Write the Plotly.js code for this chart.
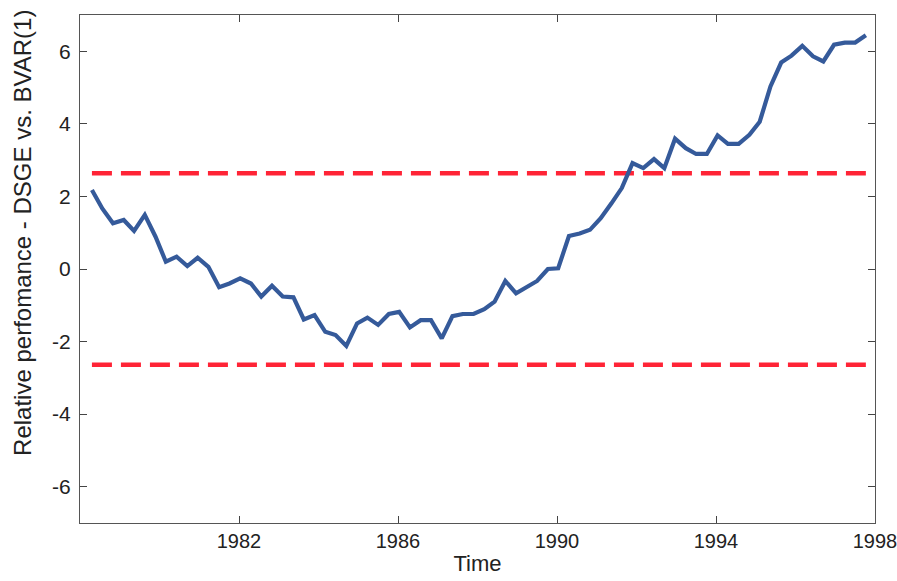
<!DOCTYPE html>
<html>
<head>
<meta charset="utf-8">
<script src="https://cdn.plot.ly/plotly-3.0.1.min.js"></script>
<style>html,body{margin:0;padding:0;background:#fff;}#chart{width:897px;height:581px;}</style>
</head>
<body>
<div id="chart"></div>
<script>
const time = [1978.30,1978.56,1978.83,1979.10,1979.36,1979.63,1979.90,1980.16,1980.43,1980.70,
  1980.96,1981.23,1981.50,1981.76,1982.03,1982.30,1982.56,1982.83,1983.10,1983.37,
  1983.63,1983.90,1984.17,1984.43,1984.70,1984.97,1985.23,1985.50,1985.77,1986.03,
  1986.30,1986.57,1986.83,1987.10,1987.37,1987.63,1987.90,1988.17,1988.43,1988.70,
  1988.97,1989.23,1989.50,1989.77,1990.03,1990.30,1990.57,1990.83,1991.10,1991.37,
  1991.63,1991.90,1992.17,1992.44,1992.70,1992.97,1993.24,1993.50,1993.77,1994.04,
  1994.30,1994.57,1994.84,1995.10,1995.37,1995.64,1995.90,1996.17,1996.44,1996.70,
  1996.97,1997.24,1997.50,1997.77];
const relPerf = [2.18,1.67,1.26,1.35,1.05,1.49,0.89,0.20,0.34,0.08,
  0.31,0.06,-0.50,-0.40,-0.26,-0.40,-0.76,-0.46,-0.76,-0.78,
  -1.39,-1.27,-1.73,-1.82,-2.12,-1.50,-1.34,-1.54,-1.24,-1.18,
  -1.61,-1.41,-1.41,-1.91,-1.30,-1.24,-1.24,-1.11,-0.90,-0.33,
  -0.67,-0.49,-0.33,0.00,0.02,0.91,0.98,1.08,1.40,1.81,
  2.23,2.92,2.78,3.03,2.78,3.59,3.33,3.17,3.17,3.68,
  3.45,3.45,3.70,4.06,5.03,5.69,5.88,6.15,5.86,5.72,
  6.18,6.24,6.24,6.44];
const upperBand = 2.64;
const lowerBand = -2.64;
const yTicks = [-6,-4,-2,0,2,4,6];
const xTicks = [1982,1986,1990,1994,1998];
const xTitle = 'Time';
const yTitle = 'Relative perfomance - DSGE vs. BVAR(1)';

const xEnds = [time[0], time[time.length-1]];
const dashStyle = {color:'#ff2436', width:4.5, dash:'20px,9px'};
const traces = [
  {x:xEnds, y:[upperBand, upperBand], mode:'lines', line:dashStyle, hoverinfo:'skip'},
  {x:xEnds, y:[lowerBand, lowerBand], mode:'lines', line:dashStyle, hoverinfo:'skip'},
  {x:time, y:relPerf, mode:'lines', line:{color:'#355a9a', width:4.2}}
];
const fam = '"Liberation Sans", Arial, sans-serif';
const layout = {
  width:897, height:581,
  margin:{l:80, r:22, t:15, b:58},
  paper_bgcolor:'#fff', plot_bgcolor:'#fff',
  showlegend:false,
  font:{family:fam, color:'#222', size:21},
  xaxis:{range:[1978,1998], tickvals:xTicks, ticktext:xTicks.map(String),
    ticks:'inside', ticklen:7, tickcolor:'#444', showline:true, linecolor:'#555', linewidth:1,
    mirror:'ticks', showgrid:false, zeroline:false, ticklabeloverflow:'allow',
    tickfont:{family:fam, size:20, color:'#222'},
    title:{text:xTitle, font:{size:22, family:fam, color:'#222'}, standoff:4}},
  yaxis:{range:[-7,7], tickvals:yTicks, ticktext:yTicks.map(String),
    ticks:'inside', ticklen:7, tickcolor:'#444', showline:true, linecolor:'#555', linewidth:1,
    mirror:'ticks', showgrid:false, zeroline:false, ticklabelstandoff:4,
    tickfont:{family:fam, size:21, color:'#222'}},
  annotations:[{text:yTitle, textangle:-90, xref:'paper', yref:'paper',
    x:-0.0717, y:0.571, xanchor:'center', yanchor:'middle', showarrow:false,
    font:{family:fam, size:24, color:'#222'}}]
};
Plotly.newPlot('chart', traces, layout, {staticPlot:true});
</script>
</body>
</html>
